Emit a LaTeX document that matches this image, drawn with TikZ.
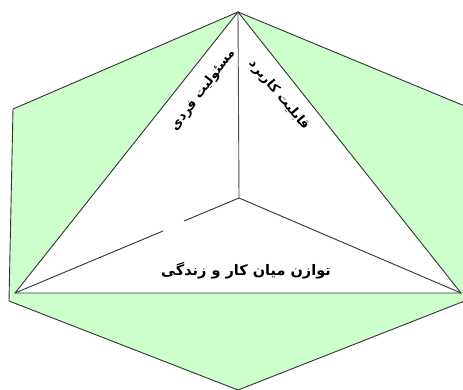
\documentclass[tikz,border=0pt]{standalone}
\usepackage{fontspec}
\newfontfamily\arabicfont[Script=Arabic]{DejaVu Sans}
\TeXXeTstate=1
\definecolor{lightgreen}{HTML}{CCFFCC}
\definecolor{edgegray}{HTML}{333333}
\tikzset{
  edgeline/.style={draw=edgegray, line width=0.9pt, line join=miter},
  labeltext/.style={font=\arabicfont\bfseries, inner sep=0pt, text=black}
}
\begin{document}
\begin{tikzpicture}[x=1pt,y=-1pt]
\useasboundingbox (0,0) rectangle (463,389);
\clip (0,0) rectangle (463,389);
% hexagon corners
\coordinate (top) at (238,12);
\coordinate (ur) at (467,107);
\coordinate (lr) at (467,300);
\coordinate (bot) at (238,390);
\coordinate (ll) at (9,301);
\coordinate (ul) at (13,109);
% triangle corners
\coordinate (tl) at (15,293);
\coordinate (tr) at (461,293);
\coordinate (ctr) at (239,198);
\coordinate (gapa) at (184,221);
\coordinate (gapb) at (163,231);
% green hexagon
\filldraw[fill=lightgreen, edgeline] (top) -- (ur) -- (lr) -- (bot) -- (ll) -- (ul) -- cycle;
% white triangle
\filldraw[fill=white, edgeline] (top) -- (tl) -- (tr) -- cycle;
% inner lines
\draw[edgeline, draw=black!70] (top) -- (ctr);
\draw[edgeline] (ctr) -- (tr);
\draw[edgeline] (ctr) -- (gapa);
\draw[edgeline] (gapb) -- (tl);
% labels
\node[labeltext, font=\arabicfont\bfseries\fontsize{13}{15}\selectfont, rotate=53] (lab1) at (203,90) {\beginR مسئولیت فردی\endR};
\node[labeltext, font=\arabicfont\bfseries\fontsize{13}{15}\selectfont, rotate=-50] (lab2) at (279,95) {\beginR قابلیت کاربرد\endR};
\node[labeltext, font=\arabicfont\bfseries\fontsize{14.5}{17}\selectfont] (lab3) at (246,271) {\beginR توازن میان کار و زندگی\endR};
\end{tikzpicture}
\end{document}
